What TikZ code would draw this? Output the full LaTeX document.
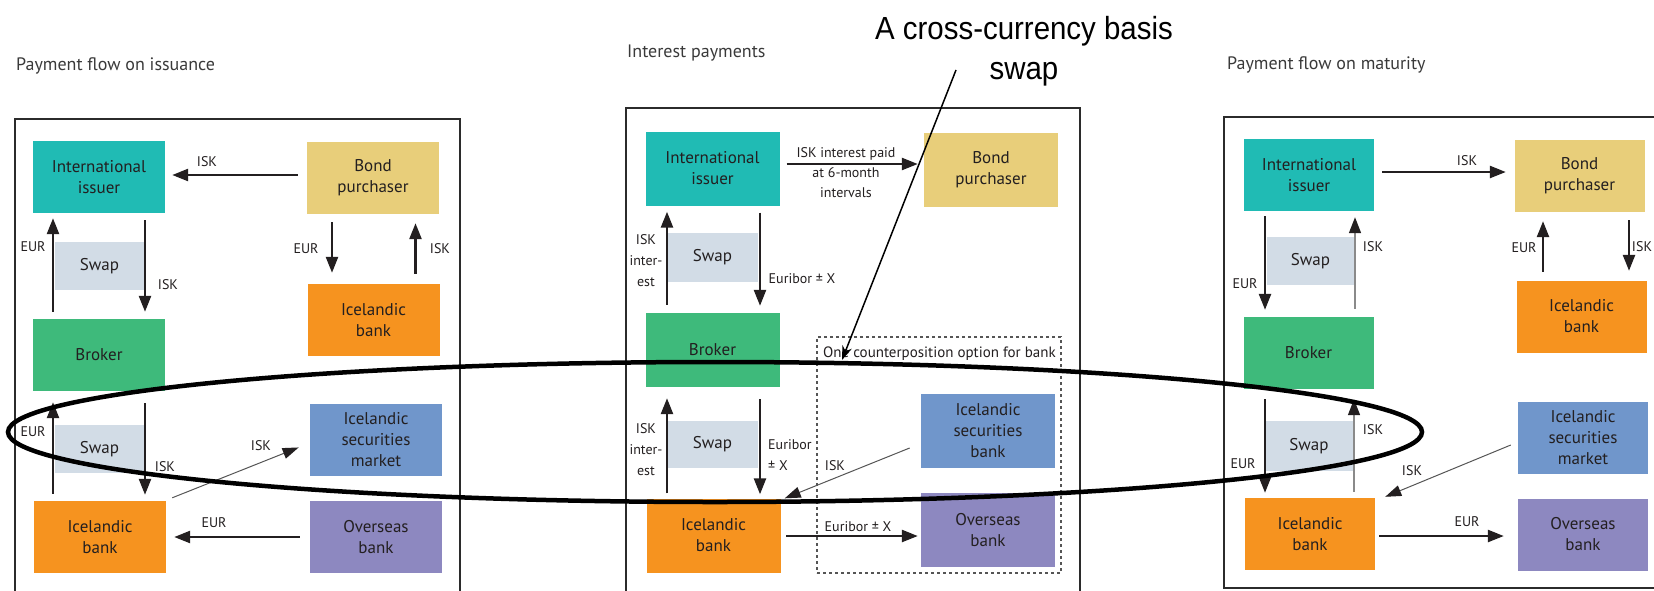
\documentclass[tikz,border=0pt]{standalone}
\usepackage{fontspec}
\setmainfont{PT Sans}
\newfontfamily\annofont[FakeStretch=0.92]{Liberation Sans}
\usetikzlibrary{arrows.meta}
\definecolor{txt}{HTML}{231F20}
\definecolor{titlec}{HTML}{3A3A3A}
\definecolor{framec}{HTML}{2B2B2B}
\definecolor{tealc}{HTML}{20BBB4}
\definecolor{yellowc}{HTML}{E8CE7A}
\definecolor{swapc}{HTML}{D2DCE6}
\definecolor{greenc}{HTML}{3EBA7B}
\definecolor{orangec}{HTML}{F6931F}
\definecolor{bluec}{HTML}{7096CB}
\definecolor{purplec}{HTML}{8D88C0}
\definecolor{thinc}{HTML}{555555}
\definecolor{grayarr}{HTML}{8A8A8A}
\tikzset{
  box/.style={minimum width=132pt, minimum height=72pt, inner sep=0pt, align=center,
    font=\fontsize{17}{21}\selectfont, text=txt},
  swapbox/.style={box, fill=swapc, minimum width=89pt, minimum height=48pt},
  lbl/.style={font=\fontsize{14}{20}\selectfont, inner sep=0pt, text=txt, align=center},
  titlelbl/.style={font=\fontsize{18}{21}\selectfont, inner sep=0pt, text=titlec, anchor=base west},
  arr/.style={line width=2.5pt, draw=txt, -{Triangle[length=16pt,width=12pt]}},
  thinarr/.style={line width=1pt, draw=thinc, -{Triangle[length=16pt,width=11pt,color=txt,fill=txt]}},
  grayup/.style={line width=1.6pt, draw=grayarr, -{Triangle[length=16pt,width=12pt,color=txt,fill=txt]}},
  frame/.style={line width=2pt, draw=framec},
  annoarr/.style={line width=1.5pt, draw=black, -{Stealth[length=14pt,width=10pt]}}
}
\begin{document}
\begin{tikzpicture}[x=1pt,y=-1pt]
\useasboundingbox (0,0) rectangle (1654,590);
\fill[white] (0,0) rectangle (1654,590);
\clip (0,0) rectangle (1654,590);

% ================= LEFT PANEL =================
\node[titlelbl] (L-title) at (16,70) {Payment flow on issuance};
\node[box, fill=tealc]   (L-ii)  at (99,177)    {International\\issuer};
\node[box, fill=yellowc] (L-bp)  at (373,178)   {Bond\\purchaser};
\node[swapbox]           (L-sw1) at (99.5,266)  {Swap};
\node[box, fill=orangec] (L-ib1) at (373.5,320) {Icelandic\\bank};
\node[box, fill=greenc]  (L-br)  at (99,355)    {Broker};
\node[swapbox]           (L-sw2) at (99.5,449)  {Swap};
\node[box, fill=bluec]   (L-ism) at (376,440)   {Icelandic\\securities\\market};
\node[box, fill=orangec] (L-ib2) at (100,537)   {Icelandic\\bank};
\node[box, fill=purplec] (L-ob)  at (376,537)   {Overseas\\bank};

\draw[arr, shorten <=9pt, shorten >=7pt] ([yshift=3pt]L-bp.west) -- ([yshift=2pt]L-ii.east);
\node[lbl] at (207,162) {ISK};
\draw[arr, shorten <=7pt, shorten >=5pt] ([xshift=-46pt]L-br.north) -- ([xshift=-46pt]L-ii.south);
\node[lbl] at (33,247) {EUR};
\draw[arr, shorten <=7pt, shorten >=7pt] ([xshift=46pt]L-ii.south) -- ([xshift=46pt]L-br.north);
\node[lbl] at (168,285) {ISK};
\draw[arr, shorten <=8pt, shorten >=11pt] ([xshift=-41pt]L-bp.south) -- ([xshift=-41.5pt]L-ib1.north);
\node[lbl] at (306,249) {EUR};
\draw[arr, shorten <=10pt, shorten >=9pt] ([xshift=42pt]L-ib1.north) -- ([xshift=42.5pt]L-bp.south);
\node[lbl] at (440,249) {ISK};
\draw[arr, shorten <=7pt, shorten >=11pt] ([xshift=-47pt]L-ib2.north) -- ([xshift=-46pt]L-br.south);
\node[lbl] at (33,432) {EUR};
\draw[arr, shorten <=12pt, shorten >=6pt] ([xshift=46pt]L-br.south) -- ([xshift=45pt]L-ib2.north);
\node[lbl] at (165,467) {ISK};
\draw[thinarr, shorten >=12pt] ([xshift=6pt,yshift=3pt]L-ib2.north east) -- ([yshift=-3pt]L-ism.west);
\node[lbl] at (261,446) {ISK};
\draw[arr, shorten <=10pt, shorten >=8pt] (L-ob.west) -- (L-ib2.east);
\node[lbl] at (214,523) {EUR};

\draw[frame] (15,600) -- (15,119) -- (460,119) -- (460,600);

% ================= MIDDLE PANEL =================
\node[titlelbl] (M-title) at (627,57) {Interest payments};
\tikzset{mbox/.style={box, minimum width=134pt, minimum height=74pt}}
\node[mbox, fill=tealc]   (M-ii)  at (712.5,168.5) {International\\issuer};
\node[mbox, fill=yellowc] (M-bp)  at (991,169.5)   {Bond\\purchaser};
\node[swapbox, minimum width=91pt, minimum height=49pt] (M-sw1) at (712.5,257.5) {Swap};
\node[mbox, fill=greenc]  (M-br)  at (712.5,350)   {Broker};
\node[swapbox, minimum width=91pt, minimum height=47pt] (M-sw2) at (712.5,444.5) {Swap};
\node[mbox, fill=orangec] (M-ib)  at (713.5,535.5) {Icelandic\\bank};
\node[draw=framec!80, dashed, line width=1.2pt, minimum width=244pt, minimum height=236pt, inner sep=0pt] (M-opt) at (939,455) {};
\node[lbl, anchor=west, font=\fontsize{15}{20}\selectfont] (M-optlbl) at (823,354) {One counterposition option for bank};
\node[mbox, fill=bluec]   (M-isb) at (988,430.5)   {Icelandic\\securities\\bank};
\node[mbox, fill=purplec] (M-ob)  at (988,530)     {Overseas\\bank};

\draw[arr, shorten <=7pt, shorten >=6pt] ([yshift=4.5pt]M-ii.east) -- ([yshift=5.5pt]M-bp.west);
\node[lbl, font=\fontsize{14}{20}\selectfont] at (846,173) {ISK interest paid\\at 6-month\\intervals};
\draw[arr, shorten <=8pt, shorten >=6pt] ([xshift=-45.5pt]M-br.north) -- ([xshift=-45.5pt]M-ii.south);
\node[lbl, font=\fontsize{14}{21}\selectfont] at (646,261) {ISK\\inter-\\est};
\draw[arr, shorten <=7pt, shorten >=7pt] ([xshift=47.5pt]M-ii.south) -- ([xshift=47.5pt]M-br.north);
\node[lbl] at (802,279) {Euribor ± X};
\draw[arr, shorten <=5pt, shorten >=11pt] ([xshift=-46.5pt]M-ib.north) -- ([xshift=-45.5pt]M-br.south);
\node[lbl, font=\fontsize{14}{21}\selectfont] at (646,450) {ISK\\inter-\\est};
\draw[arr, shorten <=12pt, shorten >=4pt] ([xshift=47.5pt]M-br.south) -- ([xshift=46.5pt]M-ib.north);
\node[lbl, anchor=west, align=left, font=\fontsize{14}{21}\selectfont] at (768,455) {Euribor\\± X};
\draw[thinarr, shorten <=12pt] ([yshift=-13pt]M-isb.west) -- ([xshift=4pt]M-ib.north east);
\node[lbl] at (835,466) {ISK};
\draw[arr, shorten <=5.5pt, shorten >=3pt] ([yshift=-0.5pt]M-ib.east) -- ([yshift=-6pt]M-ob.west);
\node[lbl] at (858,527) {Euribor ± X};

\draw[frame] (626,600) -- (626,108) -- (1080,108) -- (1080,600);

% ================= RIGHT PANEL =================
\node[titlelbl] (R-title) at (1227,69) {Payment flow on maturity};
\tikzset{rbox/.style={box, minimum width=130pt, minimum height=72pt}}
\node[rbox, fill=tealc]   (R-ii)  at (1309,175)    {International\\issuer};
\node[rbox, fill=yellowc] (R-bp)  at (1579.5,176)  {Bond\\purchaser};
\node[swapbox, minimum width=87pt] (R-sw1) at (1310.5,261) {Swap};
\node[rbox, fill=orangec] (R-ib1) at (1581.5,316.5) {Icelandic\\bank};
\node[rbox, fill=greenc]  (R-br)  at (1308.5,353)  {Broker};
\node[swapbox, minimum width=88pt, minimum height=50pt] (R-sw2) at (1309,446) {Swap};
\node[rbox, fill=bluec]   (R-ism) at (1583,437.5)  {Icelandic\\securities\\market};
\node[rbox, fill=orangec] (R-ib2) at (1310,534)    {Icelandic\\bank};
\node[rbox, fill=purplec] (R-ob)  at (1583,534.5)  {Overseas\\bank};

\draw[arr, shorten <=8pt, shorten >=8.5pt] ([yshift=3pt]R-ii.east) -- ([yshift=4pt]R-bp.west);
\node[lbl] at (1467,161) {ISK};
\draw[arr, shorten <=5pt, shorten >=7pt] ([xshift=-44pt]R-ii.south) -- ([xshift=-43.5pt]R-br.north);
\node[lbl] at (1245,284) {EUR};
\draw[grayup, shorten <=8pt, shorten >=6pt] ([xshift=46.5pt]R-br.north) -- ([xshift=46pt]R-ii.south);
\node[lbl] at (1373,247) {ISK};
\draw[arr, shorten <=8.5pt, shorten >=9pt] ([xshift=-38.5pt]R-ib1.north) -- ([xshift=-36.5pt]R-bp.south);
\node[lbl] at (1524,248) {EUR};
\draw[arr, shorten <=8pt, shorten >=9.5pt] ([xshift=49.5pt]R-bp.south) -- ([xshift=47.5pt]R-ib1.north);
\node[lbl] at (1642,247) {ISK};
\draw[arr, shorten <=10pt, shorten >=5pt] ([xshift=-43.5pt]R-br.south) -- ([xshift=-45pt]R-ib2.north);
\node[lbl] at (1243,464) {EUR};
\draw[grayup, shorten <=6pt, shorten >=10pt] ([xshift=44pt]R-ib2.north) -- ([xshift=45.5pt]R-br.south);
\node[lbl] at (1373,430) {ISK};
\draw[thinarr, shorten <=7.6pt] ([yshift=-4.6pt]R-ism.west) -- ([xshift=10pt,yshift=1pt]R-ib2.north east);
\node[lbl] at (1412,471) {ISK};
\draw[arr, shorten <=4pt, shorten >=14pt] ([yshift=-2pt]R-ib2.east) -- ([yshift=-1.5pt]R-ob.west);
\node[lbl] at (1467,522) {EUR};

\draw[frame] (1224,117) rectangle (1680,588);

% ================= ANNOTATION =================
\draw[line width=4.5pt, black] (715,432) ellipse [x radius=707pt, y radius=70pt];
\node[font=\annofont\fontsize{32}{40}\selectfont, align=center, inner sep=0pt, text=black] (ann) at (1024,51) {A cross-currency basis\\swap};
\coordinate (ann-start) at (956,70);
\coordinate (ann-tip) at (842,360);
\draw[annoarr] (ann-start) -- (ann-tip);
\end{tikzpicture}
\end{document}
